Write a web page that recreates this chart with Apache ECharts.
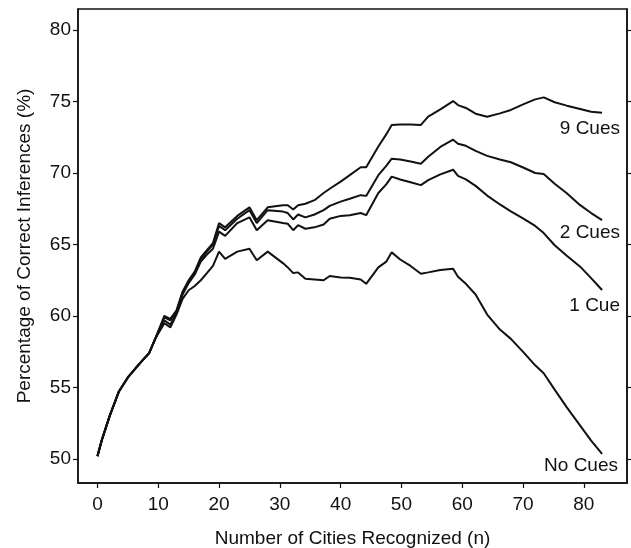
<!DOCTYPE html>
<html>
<head>
<meta charset="utf-8">
<script src="https://cdn.jsdelivr.net/npm/echarts@6/dist/echarts.min.js"></script>
<style>html,body{margin:0;padding:0;background:#fff}#c{width:631px;height:548px}</style>
</head>
<body>
<div id="c"></div>
<script>
const xValues = [0, 0.7, 2, 3.5, 5, 7, 8.5, 9.5, 11, 12, 13, 14, 15, 16, 17, 18, 19, 20, 21, 23, 25, 26.2, 28, 30.5, 31.3, 32.2, 33, 34.2, 35.7, 37.2, 38.2, 40, 41.5, 43.3, 44.2, 46.2, 47.5, 48.4, 49.8, 51.5, 53.2, 54.4, 56.4, 58.5, 59.3, 60.6, 62.2, 64.1, 66.2, 68, 70.2, 72, 73.4, 75.2, 77.2, 79.4, 81.2, 83];
const nineCues = [50.2, 51.3, 53.0, 54.7, 55.7, 56.7, 57.4, 58.4, 60.0, 59.8, 60.4, 61.7, 62.5, 63.1, 64.1, 64.6, 65.1, 66.5, 66.2, 67.0, 67.6, 66.7, 67.6, 67.75, 67.75, 67.45, 67.75, 67.85, 68.1, 68.6, 68.9, 69.4, 69.85, 70.4, 70.4, 71.85, 72.7, 73.35, 73.4, 73.4, 73.36, 73.94, 74.45, 75.03, 74.75, 74.55, 74.15, 73.94, 74.17, 74.41, 74.83, 75.15, 75.29, 74.95, 74.71, 74.48, 74.29, 74.22];
const twoCues = [50.2, 51.3, 53.0, 54.7, 55.7, 56.7, 57.4, 58.4, 59.9, 59.7, 60.3, 61.6, 62.4, 63.0, 64.0, 64.5, 65.0, 66.3, 66.0, 66.8, 67.4, 66.5, 67.4, 67.3, 67.2, 66.75, 67.1, 66.9, 67.1, 67.4, 67.7, 68.0, 68.2, 68.45, 68.4, 69.85, 70.5, 71.0, 70.95, 70.8, 70.65, 71.14, 71.82, 72.33, 72.05, 71.9, 71.55, 71.2, 70.95, 70.75, 70.35, 70.0, 69.93, 69.25, 68.58, 67.75, 67.2, 66.71];
const oneCue = [50.2, 51.3, 53.0, 54.7, 55.7, 56.7, 57.4, 58.4, 59.7, 59.4, 60.2, 61.5, 62.3, 62.9, 63.8, 64.3, 64.7, 65.9, 65.6, 66.5, 66.9, 66.0, 66.7, 66.5, 66.45, 66.0, 66.35, 66.1, 66.2, 66.4, 66.8, 67.0, 67.05, 67.2, 67.05, 68.6, 69.2, 69.75, 69.55, 69.35, 69.15, 69.5, 69.9, 70.23, 69.8, 69.55, 69.1, 68.42, 67.8, 67.32, 66.78, 66.3, 65.8, 64.95, 64.22, 63.45, 62.65, 61.82];
const noCues = [50.2, 51.3, 53.0, 54.7, 55.7, 56.7, 57.4, 58.4, 59.5, 59.2, 60.1, 61.2, 61.8, 62.1, 62.5, 63.0, 63.5, 64.5, 64.0, 64.5, 64.7, 63.9, 64.5, 63.7, 63.4, 63.0, 63.05, 62.6, 62.55, 62.5, 62.8, 62.7, 62.68, 62.55, 62.25, 63.4, 63.8, 64.45, 63.95, 63.5, 62.95, 63.05, 63.22, 63.3, 62.75, 62.25, 61.5, 60.1, 59.05, 58.4, 57.4, 56.55, 56.0, 54.85, 53.61, 52.33, 51.28, 50.35];
const seriesNames = ['9 Cues', '2 Cues', '1 Cue', 'No Cues'];
const xTicks = [0, 10, 20, 30, 40, 50, 60, 70, 80];
const yTicks = [50, 55, 60, 65, 70, 75, 80];

const FONT = 'Liberation Sans, Arial, Helvetica, sans-serif';
const pair = ys => xValues.map((x, i) => [x, ys[i]]);
const allSeries = [nineCues, twoCues, oneCue, noCues];

const chart = echarts.init(document.getElementById('c'), null, {renderer: 'canvas'});
chart.setOption({
  animation: false,
  backgroundColor: '#fff',
  grid: {left: 78, right: 4, top: 9, bottom: 65, outerBoundsMode: 'none', containLabel: false, show: true, borderColor: '#111', borderWidth: 1.5, backgroundColor: 'transparent'},
  xAxis: {
    type: 'value', min: -3.2, max: 87.1,
    name: 'Number of Cities Recognized (n)', nameLocation: 'middle', nameGap: 46,
    nameTextStyle: {fontFamily: FONT, fontSize: 19, color: '#111'},
    axisLine: {show: true, onZero: false, lineStyle: {color: '#111', width: 1.5}},
    axisTick: {show: true, length: 5, customValues: xTicks, lineStyle: {color: '#111', width: 1.2}},
    axisLabel: {customValues: xTicks, margin: 12, fontFamily: FONT, fontSize: 19, color: '#111'},
    splitLine: {show: false}
  },
  yAxis: [{
    type: 'value', min: 48.32, max: 81.47,
    name: 'Percentage of Correct Inferences (%)', nameLocation: 'middle', nameGap: 44, nameRotate: 90,
    nameTextStyle: {fontFamily: FONT, fontSize: 19, color: '#111'},
    axisLine: {show: true, onZero: false, lineStyle: {color: '#111', width: 1.5}},
    axisTick: {show: true, length: 5, customValues: yTicks, lineStyle: {color: '#111', width: 1.2}},
    axisLabel: {customValues: yTicks, margin: 7, fontFamily: FONT, fontSize: 19, color: '#111'},
    splitLine: {show: false}
  }, {
    type: 'value', min: 48.32, max: 81.47, position: 'right',
    axisLine: {show: true, onZero: false, lineStyle: {color: '#111', width: 1.5}},
    axisTick: {show: true, length: 4, customValues: yTicks, lineStyle: {color: '#111', width: 1.2}},
    axisLabel: {show: false},
    splitLine: {show: false}
  }],
  series: allSeries.map((ys, i) => ({
    name: seriesNames[i], type: 'line', data: pair(ys), showSymbol: false, symbol: 'none',
    lineStyle: {color: '#111', width: 2}, z: 3
  })),
  graphic: [
    {type: 'text', right: 11, top: 119, style: {text: seriesNames[0], font: '19px ' + FONT, fill: '#111'}},
    {type: 'text', right: 11, top: 223, style: {text: seriesNames[1], font: '19px ' + FONT, fill: '#111'}},
    {type: 'text', right: 11, top: 296, style: {text: seriesNames[2], font: '19px ' + FONT, fill: '#111'}},
    {type: 'text', right: 13, top: 456, style: {text: seriesNames[3], font: '19px ' + FONT, fill: '#111'}}
  ]
});
</script>
</body>
</html>
